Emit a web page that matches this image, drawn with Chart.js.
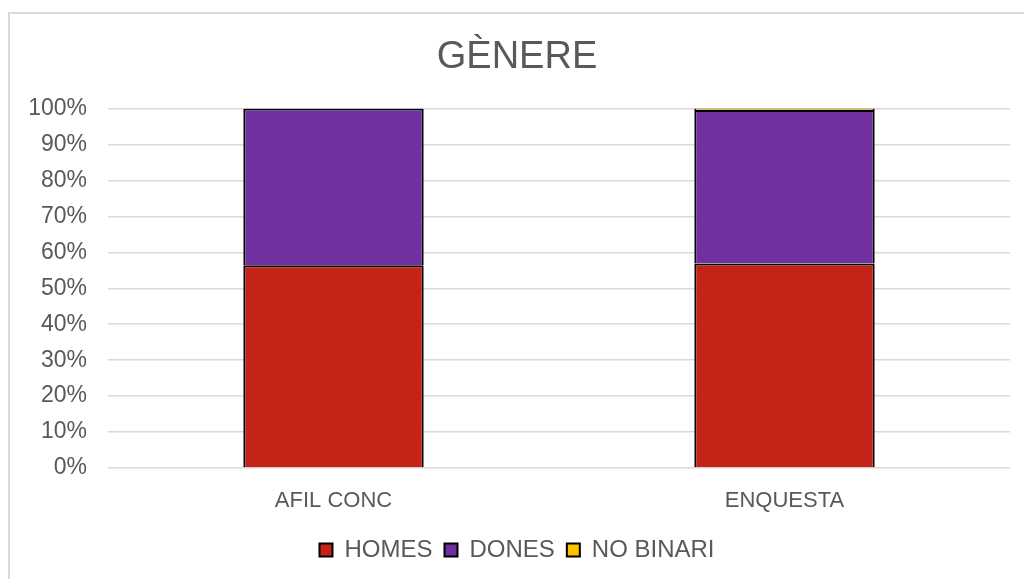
<!DOCTYPE html>
<html>
<head>
<meta charset="utf-8">
<script src="https://cdn.jsdelivr.net/npm/chart.js@4/dist/chart.umd.min.js"></script>
<style>
  html, body { margin: 0; padding: 0; background: #fff; }
  #frame {
    position: absolute; left: 8px; top: 12px; width: 1040px; height: 600px;
    border: 2px solid #d9d9d9; box-sizing: border-box;
  }
  #wrap { position: absolute; left: 0; top: 0; width: 1024px; height: 579px; }
</style>
</head>
<body>
<div id="frame"></div>
<div id="wrap"><canvas id="myChart"></canvas></div>
<script>
// categories and values (percent of each bar)
var categories = ["AFIL CONC", "ENQUESTA"];
var homes = [56.4, 56.9];
var dones = [43.6, 42.7];
var noBinari = [0, 0.4];
var yTicks = [0, 10, 20, 30, 40, 50, 60, 70, 80, 90, 100];

var textColor = "#595959";
Chart.defaults.font.family = "'Liberation Sans', Arial, sans-serif";
Chart.defaults.color = textColor;

var ctx = document.getElementById("myChart").getContext("2d");
var chart = new Chart(ctx, {
  type: "bar",
  data: {
    labels: categories,
    datasets: [
      {
        label: "HOMES",
        backgroundColor: "#c42317",
        borderColor: "#000",
        borderWidth: 2,
        data: homes,
      },
      {
        label: "DONES",
        backgroundColor: "#7030a0",
        borderColor: "#000",
        borderWidth: 2,
        data: dones,
      },
      {
        label: "NO BINARI",
        backgroundColor: "#ffc000",
        borderColor: "#000",
        borderWidth: 2,
        data: noBinari,
      },
    ],
  },
  options: {
    responsive: true,
    maintainAspectRatio: false,
    animation: false,
    layout: { padding: { left: 24, right: 14, top: 0, bottom: 7 } },
    datasets: { bar: { barPercentage: 0.4, categoryPercentage: 1 } },
    plugins: {
      title: {
        display: true,
        text: "GÈNERE",
        color: textColor,
        font: { size: 38, weight: "normal" },
        padding: { top: 35, bottom: 28 },
      },
      legend: {
        position: "bottom",
        labels: {
          boxWidth: 13,
          boxHeight: 13,
          padding: 12,
          color: textColor,
          font: { size: 24 },
        },
      },
      tooltip: { enabled: false },
    },
    scales: {
      x: {
        stacked: true,
        grid: { display: false },
        border: { display: false },
        ticks: { padding: 12, color: textColor, font: { size: 22 } },
        afterFit: (scale) => { scale.height = 58; },
      },
      y: {
        stacked: true,
        min: 0,
        max: 100,
        afterBuildTicks: (scale) => {
          scale.ticks = yTicks.map((v) => ({ value: v }));
        },
        ticks: {
          padding: 21,
          color: textColor,
          font: { size: 23 },
          callback: (v) => v + "%",
        },
        grid: { color: "#d9d9d9", lineWidth: 1.5, drawTicks: false },
        border: { display: false },
        afterFit: (scale) => { scale.width = 84; },
      },
    },
  },
});
</script>
</body>
</html>
